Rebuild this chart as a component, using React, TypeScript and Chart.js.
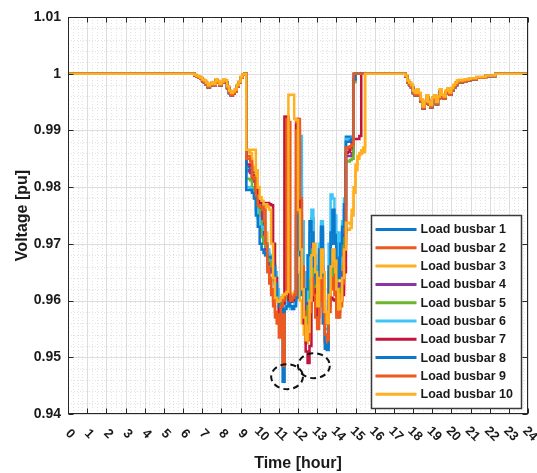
import { useEffect, useRef } from "react";
import { Chart, registerables } from "chart.js";

Chart.register(...registerables);

const SERIES_NAMES = [
  "Load busbar 1", "Load busbar 2", "Load busbar 3", "Load busbar 4", "Load busbar 5",
  "Load busbar 6", "Load busbar 7", "Load busbar 8", "Load busbar 9", "Load busbar 10",
];
const SERIES_COLORS = [
  "#0a78cc", "#ec5a1f", "#ffb020", "#8a35a0", "#6cb52d",
  "#3ec4f5", "#c0143c", "#0a78cc", "#ec5a1f", "#ffb020",
];
const HOUR_TICKS = [
  "0", "1", "2", "3", "4", "5", "6", "7", "8", "9", "10", "11", "12",
  "13", "14", "15", "16", "17", "18", "19", "20", "21", "22", "23", "24",
];
const Y_MIN = 0.94;
const Y_MAX = 1.01;

// Morning (shared shape)
const MORNING_T = [0, 6.5, 6.6, 6.7, 6.8, 6.9, 7.0, 7.1, 7.2, 7.3, 7.4, 7.5, 7.6, 7.7, 7.8, 7.9,
  8.0, 8.1, 8.2, 8.3, 8.4, 8.5, 8.6, 8.7, 8.8, 8.9, 9.0, 9.1, 9.2];
const MORNING_HI = [1.0, 1.0, 0.9998, 0.9996, 0.9995, 0.9993, 0.9990, 0.9988, 0.9984, 0.9979, 0.9982,
  0.9985, 0.9982, 0.9990, 0.9987, 0.9982, 0.9986, 0.9990, 0.9988, 0.9978, 0.9970, 0.9966, 0.9969,
  0.9972, 0.9980, 0.9986, 0.9994, 0.9999, 1.0];
const MORNING_LO = [1.0, 1.0, 0.9997, 0.9995, 0.9993, 0.9991, 0.9987, 0.9985, 0.9981, 0.9976, 0.9979,
  0.9983, 0.9980, 0.9988, 0.9984, 0.9979, 0.9984, 0.9988, 0.9985, 0.9975, 0.9966, 0.9962, 0.9965,
  0.9968, 0.9977, 0.9984, 0.9993, 0.9999, 1.0];

// Midday (per busbar)
const MID_T = [
  9.3, 9.4, 9.5, 9.6, 9.7, 9.8, 9.9, 10.0, 10.1, 10.2,
  10.3, 10.4, 10.5, 10.6, 10.7, 10.8, 10.9, 11.0, 11.1, 11.2,
  11.3, 11.4, 11.5, 11.6, 11.7, 11.8, 11.9, 12.0, 12.1, 12.2,
  12.3, 12.4, 12.5, 12.6, 12.7, 12.8, 12.9, 13.0, 13.1, 13.2,
  13.3, 13.4, 13.5, 13.6, 13.7, 13.8, 13.9, 14.0, 14.1, 14.2,
  14.3, 14.4, 14.5, 14.6, 14.7, 14.8, 14.9, 15.0, 15.1, 15.2,
  15.3, 15.4, 15.5,
];
const BUS1_MID = [
  0.9835, 0.9835, 0.9830, 0.9827, 0.9827, 0.9800, 0.9780, 0.9770, 0.9740, 0.9700,
  0.9690, 0.9684, 0.9680, 0.9670, 0.9660, 0.9640, 0.9610, 0.9600, 0.9590, 0.9457,
  0.9598, 0.9600, 0.9605, 0.9600, 0.9598, 0.9600, 0.9605, 0.9860, 0.9800, 0.9700,
  0.9620, 0.9580, 0.9620, 0.9700, 0.9745, 0.9680, 0.9640, 0.9610, 0.9680, 0.9720,
  0.9600, 0.9530, 0.9513, 0.9650, 0.9700, 0.9740, 0.9720, 0.9690, 0.9650, 0.9680,
  0.9710, 0.9760, 0.9889, 0.9889, 0.9889, 0.9889, 0.9995, 1.0, 1.0, 1.0,
  1.0, 1.0, 1.0,
];
const BUS2_MID = [
  0.9855, 0.9855, 0.9850, 0.9822, 0.9820, 0.9790, 0.9770, 0.9762, 0.9760, 0.9740,
  0.9680, 0.9650, 0.9630, 0.9610, 0.9590, 0.9570, 0.9560, 0.9590, 0.9605, 0.9485,
  0.9924, 0.9920, 0.9610, 0.9600, 0.9605, 0.9610, 0.9920, 0.9900, 0.9750, 0.9650,
  0.9560, 0.9525, 0.9560, 0.9620, 0.9660, 0.9620, 0.9580, 0.9560, 0.9610, 0.9650,
  0.9560, 0.9525, 0.9540, 0.9590, 0.9640, 0.9660, 0.9620, 0.9580, 0.9570, 0.9590,
  0.9620, 0.9700, 0.9870, 0.9868, 0.9866, 0.9866, 1.0, 1.0, 1.0, 1.0,
  1.0, 1.0, 1.0,
];
const BUS3_MID = [
  0.9862, 0.9862, 0.9860, 0.9835, 0.9830, 0.9810, 0.9785, 0.9775, 0.9772, 0.9765,
  0.9720, 0.9680, 0.9660, 0.9650, 0.9635, 0.9620, 0.9610, 0.9605, 0.9600, 0.9605,
  0.9610, 0.9615, 0.9612, 0.9610, 0.9612, 0.9615, 0.9700, 0.9650, 0.9600, 0.9560,
  0.9540, 0.9526, 0.9580, 0.9640, 0.9690, 0.9660, 0.9610, 0.9570, 0.9600, 0.9660,
  0.9620, 0.9560, 0.9575, 0.9630, 0.9680, 0.9650, 0.9690, 0.9640, 0.9600, 0.9620,
  0.9660, 0.9700, 0.9725, 0.9725, 0.9728, 0.9750, 0.9790, 0.9840, 0.9855, 0.9858,
  0.9860, 0.9862, 1.0,
];
const BUS4_MID = [
  0.9830, 0.9828, 0.9825, 0.9815, 0.9810, 0.9785, 0.9765, 0.9755, 0.9730, 0.9710,
  0.9690, 0.9670, 0.9660, 0.9650, 0.9640, 0.9625, 0.9605, 0.9598, 0.9590, 0.9595,
  0.9600, 0.9605, 0.9608, 0.9605, 0.9600, 0.9602, 0.9750, 0.9820, 0.9720, 0.9640,
  0.9590, 0.9570, 0.9600, 0.9660, 0.9700, 0.9650, 0.9620, 0.9600, 0.9650, 0.9690,
  0.9610, 0.9560, 0.9560, 0.9620, 0.9670, 0.9630, 0.9632, 0.9630, 0.9625, 0.9630,
  0.9650, 0.9720, 0.9855, 0.9855, 0.9855, 0.9860, 0.9990, 1.0, 1.0, 1.0,
  1.0, 1.0, 1.0,
];
const BUS5_MID = [
  0.9815, 0.9815, 0.9812, 0.9800, 0.9795, 0.9780, 0.9760, 0.9740, 0.9712, 0.9700,
  0.9695, 0.9680, 0.9670, 0.9660, 0.9650, 0.9630, 0.9612, 0.9600, 0.9595, 0.9600,
  0.9605, 0.9602, 0.9600, 0.9598, 0.9600, 0.9605, 0.9720, 0.9800, 0.9700, 0.9630,
  0.9580, 0.9560, 0.9590, 0.9650, 0.9690, 0.9640, 0.9610, 0.9590, 0.9640, 0.9680,
  0.9600, 0.9550, 0.9550, 0.9610, 0.9660, 0.9635, 0.9640, 0.9620, 0.9615, 0.9620,
  0.9640, 0.9710, 0.9845, 0.9845, 0.9848, 0.9850, 0.9985, 1.0, 1.0, 1.0,
  1.0, 1.0, 1.0,
];
const BUS6_MID = [
  0.9800, 0.9800, 0.9798, 0.9790, 0.9785, 0.9760, 0.9745, 0.9730, 0.9730, 0.9725,
  0.9700, 0.9690, 0.9680, 0.9672, 0.9665, 0.9650, 0.9620, 0.9605, 0.9600, 0.9590,
  0.9595, 0.9600, 0.9590, 0.9585, 0.9590, 0.9595, 0.9800, 0.9870, 0.9890, 0.9740,
  0.9650, 0.9600, 0.9640, 0.9720, 0.9760, 0.9700, 0.9660, 0.9630, 0.9700, 0.9740,
  0.9620, 0.9540, 0.9530, 0.9700, 0.9787, 0.9780, 0.9750, 0.9720, 0.9680, 0.9720,
  0.9740, 0.9780, 0.9885, 0.9885, 0.9885, 0.9887, 1.0, 1.0, 1.0, 1.0,
  1.0, 1.0, 1.0,
];
const BUS7_MID = [
  0.9840, 0.9840, 0.9838, 0.9820, 0.9815, 0.9795, 0.9775, 0.9772, 0.9772, 0.9770,
  0.9772, 0.9772, 0.9770, 0.9768, 0.9700, 0.9640, 0.9600, 0.9580, 0.9590, 0.9595,
  0.9924, 0.9924, 0.9600, 0.9598, 0.9600, 0.9605, 0.9910, 0.9880, 0.9720, 0.9620,
  0.9560, 0.9510, 0.9490, 0.9520, 0.9600, 0.9620, 0.9590, 0.9570, 0.9620, 0.9660,
  0.9590, 0.9560, 0.9570, 0.9600, 0.9605, 0.9602, 0.9600, 0.9598, 0.9600, 0.9600,
  0.9610, 0.9650, 0.9860, 0.9862, 0.9870, 0.9885, 0.9885, 0.9885, 0.9885, 0.9890,
  1.0, 1.0, 1.0,
];
const BUS8_MID = [
  0.9795, 0.9795, 0.9795, 0.9790, 0.9780, 0.9750, 0.9730, 0.9700, 0.9690, 0.9684,
  0.9680, 0.9677, 0.9677, 0.9675, 0.9660, 0.9630, 0.9600, 0.9590, 0.9585, 0.9580,
  0.9585, 0.9590, 0.9595, 0.9590, 0.9585, 0.9590, 0.9690, 0.9750, 0.9680, 0.9610,
  0.9600, 0.9620, 0.9680, 0.9740, 0.9720, 0.9660, 0.9630, 0.9620, 0.9690, 0.9730,
  0.9560, 0.9515, 0.9520, 0.9660, 0.9720, 0.9760, 0.9700, 0.9660, 0.9640, 0.9700,
  0.9730, 0.9770, 0.9880, 0.9880, 0.9882, 0.9885, 0.9990, 1.0, 1.0, 1.0,
  1.0, 1.0, 1.0,
];
const BUS9_MID = [
  0.9850, 0.9850, 0.9845, 0.9818, 0.9815, 0.9785, 0.9768, 0.9765, 0.9765, 0.9760,
  0.9700, 0.9660, 0.9640, 0.9620, 0.9600, 0.9580, 0.9560, 0.9535, 0.9590, 0.9600,
  0.9610, 0.9920, 0.9915, 0.9600, 0.9605, 0.9610, 0.9900, 0.9920, 0.9780, 0.9660,
  0.9580, 0.9540, 0.9530, 0.9580, 0.9640, 0.9610, 0.9570, 0.9550, 0.9600, 0.9640,
  0.9580, 0.9540, 0.9530, 0.9580, 0.9620, 0.9640, 0.9610, 0.9570, 0.9580, 0.9600,
  0.9630, 0.9690, 0.9870, 0.9870, 0.9872, 0.9875, 1.0, 1.0, 1.0, 1.0,
  1.0, 1.0, 1.0,
];
const BUS10_MID = [
  0.9866, 0.9866, 0.9866, 0.9866, 0.9866, 0.9830, 0.9800, 0.9782, 0.9776, 0.9770,
  0.9770, 0.9765, 0.9760, 0.9700, 0.9640, 0.9605, 0.9598, 0.9600, 0.9605, 0.9610,
  0.9612, 0.9615, 0.9963, 0.9963, 0.9963, 0.9920, 0.9918, 0.9760, 0.9690, 0.9620,
  0.9570, 0.9530, 0.9545, 0.9600, 0.9680, 0.9700, 0.9650, 0.9590, 0.9640, 0.9690,
  0.9650, 0.9580, 0.9560, 0.9610, 0.9660, 0.9690, 0.9670, 0.9620, 0.9585, 0.9600,
  0.9640, 0.9690, 0.9737, 0.9737, 0.9735, 0.9760, 0.9800, 0.9830, 0.9850, 0.9860,
  0.9865, 0.9870, 1.0,
];

// Evening (shared shape)
const EVENING_T = [15.6, 17.5, 17.6, 17.7, 17.8, 17.9, 18.0, 18.1, 18.2, 18.3, 18.4, 18.5, 18.6, 18.7,
  18.8, 18.9, 19.0, 19.1, 19.2, 19.3, 19.4, 19.5, 19.6, 19.7, 19.8, 19.9, 20.0, 20.1, 20.2, 20.3,
  20.4, 20.5, 20.6, 20.7, 20.8, 20.9, 21.0, 21.3, 21.8, 22.3, 24];
const EVENING_HI = [1.0, 1.0, 0.9997, 0.9988, 0.9984, 0.9980, 0.9970, 0.9966, 0.9972, 0.9966, 0.9955,
  0.9942, 0.9952, 0.9962, 0.9950, 0.9945, 0.9958, 0.9962, 0.9950, 0.9960, 0.9972, 0.9963, 0.9960,
  0.9970, 0.9974, 0.9967, 0.9975, 0.9980, 0.9984, 0.9988, 0.9989, 0.9988, 0.9989, 0.9990, 0.9990,
  0.9991, 0.9992, 0.9994, 0.9997, 1.0, 1.0];
const EVENING_LO = [1.0, 1.0, 0.9995, 0.9985, 0.9980, 0.9976, 0.9966, 0.9962, 0.9968, 0.9962, 0.9951,
  0.9939, 0.9948, 0.9958, 0.9946, 0.9941, 0.9954, 0.9958, 0.9946, 0.9956, 0.9968, 0.9959, 0.9956,
  0.9966, 0.9970, 0.9963, 0.9971, 0.9976, 0.9980, 0.9985, 0.9986, 0.9985, 0.9986, 0.9987, 0.9988,
  0.9989, 0.9990, 0.9993, 0.9996, 1.0, 1.0];

const MID_SERIES = [BUS1_MID, BUS2_MID, BUS3_MID, BUS4_MID, BUS5_MID, BUS6_MID, BUS7_MID, BUS8_MID, BUS9_MID, BUS10_MID];
const UPPER_SERIES = [false, false, true, false, false, false, false, false, false, true];

// Annotation ellipses (data coordinates: hour, pu)
const ELLIPSE_HOURS = [11.43, 12.83];
const ELLIPSE_VOLTS = [0.94657, 0.94851];
const ELLIPSE_RX_HOURS = 0.83;
const ELLIPSE_RY_PU = 0.0022;

const FONT = "'Liberation Sans', Arial, Helvetica, sans-serif";
const TEXT_COLOR = "#1a1a1a";

function zipPts(t: number[], v: number[]) {
  return t.map((tt, i) => ({ x: tt, y: v[i] }));
}

function buildSeries(i: number) {
  const hi = UPPER_SERIES[i];
  return [
    ...zipPts(MORNING_T, hi ? MORNING_HI : MORNING_LO),
    ...zipPts(MID_T, MID_SERIES[i]),
    ...zipPts(EVENING_T, hi ? EVENING_HI : EVENING_LO),
  ];
}

const gridPlugin = {
  id: "matlabGrid",
  beforeDatasetsDraw(chart: any) {
    const { ctx, chartArea: a, scales } = chart;
    const xs = scales.x, ys = scales.y;
    ctx.save();
    ctx.fillStyle = "#ffffff";
    ctx.fillRect(a.left, a.top, a.right - a.left, a.bottom - a.top);
    ctx.lineWidth = 1;
    // minor dotted
    ctx.strokeStyle = "#e2e2e2";
    ctx.setLineDash([1, 2]);
    ctx.beginPath();
    for (let i = 0; i <= 96; i++) {
      if (i % 4 === 0) continue;
      const px = Math.round(xs.getPixelForValue(i / 4)) + 0.5;
      ctx.moveTo(px, a.top);
      ctx.lineTo(px, a.bottom);
    }
    for (let j = 0; j <= 35; j++) {
      if (j % 5 === 0) continue;
      const py = Math.round(ys.getPixelForValue(Y_MIN + j * 0.002)) + 0.5;
      ctx.moveTo(a.left, py);
      ctx.lineTo(a.right, py);
    }
    ctx.stroke();
    // major solid
    ctx.setLineDash([]);
    ctx.strokeStyle = "#dddddd";
    ctx.beginPath();
    for (let h = 0; h <= 24; h++) {
      const px = Math.round(xs.getPixelForValue(h)) + 0.5;
      ctx.moveTo(px, a.top);
      ctx.lineTo(px, a.bottom);
    }
    for (let j = 0; j <= 7; j++) {
      const py = Math.round(ys.getPixelForValue(Y_MIN + j * 0.01)) + 0.5;
      ctx.moveTo(a.left, py);
      ctx.lineTo(a.right, py);
    }
    ctx.stroke();
    ctx.restore();
  },
};

const overlayPlugin = {
  id: "matlabOverlay",
  afterDatasetsDraw(chart: any) {
    const { ctx, chartArea: a, scales } = chart;
    const xs = scales.x, ys = scales.y;
    ctx.save();
    // ellipses
    ctx.strokeStyle = "#111111";
    ctx.lineWidth = 2;
    ctx.setLineDash([6, 4]);
    for (let k = 0; k < ELLIPSE_HOURS.length; k++) {
      const cx = xs.getPixelForValue(ELLIPSE_HOURS[k]);
      const cy = ys.getPixelForValue(ELLIPSE_VOLTS[k]);
      const rx = Math.abs(xs.getPixelForValue(ELLIPSE_HOURS[k] + ELLIPSE_RX_HOURS) - cx);
      const ry = Math.abs(ys.getPixelForValue(ELLIPSE_VOLTS[k] + ELLIPSE_RY_PU) - cy);
      ctx.beginPath();
      ctx.ellipse(cx, cy, rx, ry, 0, 0, Math.PI * 2);
      ctx.stroke();
    }
    ctx.setLineDash([]);
    // frame
    const L = Math.round(a.left) + 0.5, R = Math.round(a.right) - 0.5;
    const T = Math.round(a.top) + 0.5, B = Math.round(a.bottom) - 0.5;
    ctx.strokeStyle = "#262626";
    ctx.lineWidth = 1;
    ctx.strokeRect(L, T, R - L, B - T);
    // inward ticks
    ctx.beginPath();
    for (let h = 0; h <= 24; h++) {
      const px = Math.round(xs.getPixelForValue(h)) + 0.5;
      ctx.moveTo(px, B); ctx.lineTo(px, B - 5);
      ctx.moveTo(px, T); ctx.lineTo(px, T + 5);
    }
    for (let j = 0; j <= 7; j++) {
      const py = Math.round(ys.getPixelForValue(Y_MIN + j * 0.01)) + 0.5;
      ctx.moveTo(L, py); ctx.lineTo(L + 5, py);
      ctx.moveTo(R, py); ctx.lineTo(R - 5, py);
    }
    ctx.stroke();
    // rotated x tick labels
    ctx.fillStyle = TEXT_COLOR;
    ctx.font = `bold 13px ${FONT}`;
    ctx.textAlign = "center";
    ctx.textBaseline = "middle";
    for (const lab of HOUR_TICKS) {
      const px = xs.getPixelForValue(Number(lab));
      ctx.save();
      ctx.translate(px + 2, a.bottom + 20);
      ctx.rotate(Math.PI / 4);
      ctx.fillText(lab, 0, 0);
      ctx.restore();
    }
    // legend box
    const bw = 150, bh = 193;
    const bx = Math.round(a.right - 7 - bw) + 0.5;
    const by = Math.round(a.bottom - 6 - bh) + 0.5;
    ctx.fillStyle = "#ffffff";
    ctx.fillRect(bx, by, bw, bh);
    ctx.strokeStyle = "#3a3a3a";
    ctx.lineWidth = 1.5;
    ctx.strokeRect(bx, by, bw, bh);
    ctx.font = `bold 12.5px ${FONT}`;
    ctx.textAlign = "left";
    ctx.textBaseline = "middle";
    for (let i = 0; i < SERIES_NAMES.length; i++) {
      const ly = by + 14 + i * 18.3;
      ctx.strokeStyle = SERIES_COLORS[i];
      ctx.lineWidth = 3;
      ctx.beginPath();
      ctx.moveTo(bx + 4, ly);
      ctx.lineTo(bx + 45, ly);
      ctx.stroke();
      ctx.fillStyle = TEXT_COLOR;
      ctx.fillText(SERIES_NAMES[i], bx + 49, ly + 0.5);
    }
    ctx.restore();
  },
};

export default function App() {
  const ref = useRef<HTMLCanvasElement>(null);
  useEffect(() => {
    const canvas = ref.current;
    if (!canvas) return;
    const datasets = SERIES_NAMES.map((name, i) => ({
      label: name,
      data: buildSeries(i),
      borderColor: SERIES_COLORS[i],
      backgroundColor: SERIES_COLORS[i],
      borderWidth: 2.5,
      pointRadius: 0,
      stepped: true as const,
      fill: false,
      order: SERIES_NAMES.length - i,
    }));
    const chart = new Chart(canvas, {
      type: "line",
      data: { datasets },
      options: {
        animation: false,
        responsive: true,
        maintainAspectRatio: false,
        layout: { padding: { top: 17, right: 9, left: 0, bottom: 0 } },
        plugins: { legend: { display: false }, tooltip: { enabled: false } },
        scales: {
          x: {
            type: "linear",
            min: 0,
            max: 24,
            grid: { display: false, drawTicks: false },
            border: { display: false },
            ticks: { display: false },
            title: {
              display: true,
              text: "Time [hour]",
              color: TEXT_COLOR,
              font: { family: FONT, size: 16, weight: "bold" },
              padding: { top: 0, bottom: 0 },
            },
            afterFit: (scale: any) => { scale.height = 59; },
          },
          y: {
            type: "linear",
            min: Y_MIN,
            max: Y_MAX,
            grid: { display: false, drawTicks: false },
            border: { display: false },
            ticks: {
              stepSize: 0.01,
              padding: 7,
              color: TEXT_COLOR,
              font: { family: FONT, size: 14, weight: "bold" },
              callback: (v: any) => String(Math.round(Number(v) * 100) / 100),
            },
            title: {
              display: true,
              text: "Voltage [pu]",
              color: TEXT_COLOR,
              font: { family: FONT, size: 16, weight: "bold" },
              padding: { top: 13, bottom: 0 },
            },
            afterFit: (scale: any) => { scale.width = 68; },
          },
        },
      } as any,
      plugins: [gridPlugin, overlayPlugin],
    });
    return () => chart.destroy();
  }, []);
  return (
    <div style={{ position: "fixed", left: 0, top: 0, width: 537, height: 473, background: "#ffffff" }}>
      <canvas ref={ref} />
    </div>
  );
}
